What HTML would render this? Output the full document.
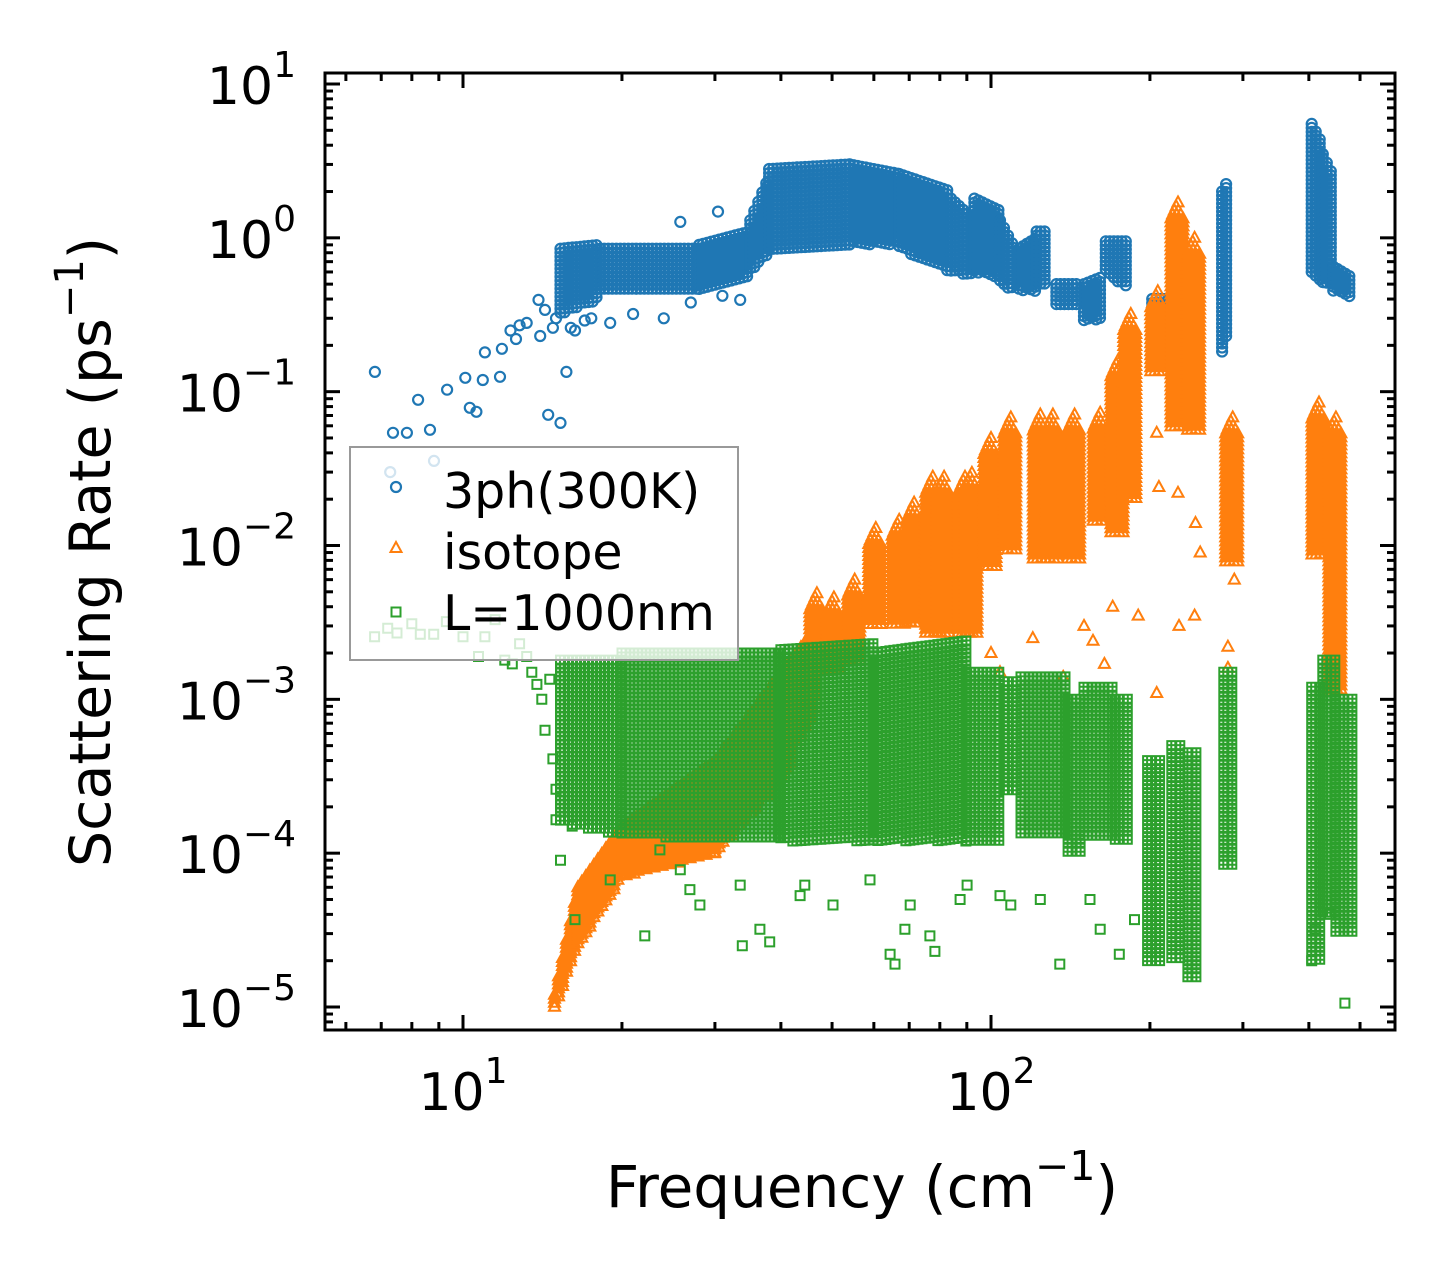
<!DOCTYPE html>
<html><head><meta charset="utf-8"><style>
html,body{margin:0;padding:0;background:#fff;}
svg{display:block;font-family:"DejaVu Sans","Liberation Sans",sans-serif;}
</style></head><body>
<svg id="chart" width="1455" height="1281" viewBox="0 0 1455 1281" xmlns="http://www.w3.org/2000/svg">
<rect width="1455" height="1281" fill="#fff"/>
<g id="marks"></g>
<g id="axes"></g>
<g id="legend">
  <rect x="350" y="447" width="388" height="213" fill="#fff" fill-opacity="0.8" stroke="#999" stroke-width="2"/>
  <circle cx="396" cy="487" r="5" fill="none" stroke="#1f77b4" stroke-width="2.2"/>
  <text x="443" y="508" font-size="49">3ph(300K)</text>
  <path d="M396,542 L401.5,552 L390.5,552 Z" fill="none" stroke="#ff7f0e" stroke-width="2"/>
  <text x="443" y="569" font-size="49">isotope</text>
  <rect x="391.5" y="607.5" width="9" height="9" fill="none" stroke="#2ca02c" stroke-width="2"/>
  <text x="443" y="630" font-size="49">L=1000nm</text>
</g>
<text x="862" y="1207" font-size="58" text-anchor="middle">Frequency (cm<tspan dy="-27" font-size="41">−1</tspan><tspan dy="27">)</tspan></text>
<text transform="translate(110,552) rotate(-90)" font-size="57" text-anchor="middle">Scattering Rate (ps<tspan dy="-27" font-size="40">−1</tspan><tspan dy="27">)</tspan></text>
</svg>
<script>
// ---- axis geometry ----
const X_LOG_MIN = 0.7386, X_LOG_MAX = 2.7652;
const Y_LOG_MIN = -5.1495, Y_LOG_MAX = 1.0715;
const PL = 325, PR = 1395, PT = 73, PB = 1030;
function X(f){ return PL + (Math.log10(f) - X_LOG_MIN) / (X_LOG_MAX - X_LOG_MIN) * (PR - PL); }
function Y(v){ return PB - (Math.log10(v) - Y_LOG_MIN) / (Y_LOG_MAX - Y_LOG_MIN) * (PB - PT); }

// ---- data: tick labels ----
const xTickExps = [1, 2];
const yTickExps = [1, 0, -1, -2, -3, -4, -5];

// ---- data: 3ph (blue) dense bands ----
const blueF0  = [15.3,18.2,28,35,38,54,67,84,93,104,113,122,133,150,165,202,274,405,425,445];
const blueF1  = [18.2,28,35,38,54,67,84,93,104,110,122,128,147,161,183,248,282,425,445,483];
const blueLo0 = [0.32,0.45,0.45,0.6,0.8,0.9,0.85,0.6,0.6,0.5,0.45,0.5,0.35,0.28,0.6,0.27,0.18,0.6,0.5,0.45];
const blueHi0 = [0.85,0.85,0.9,1.3,2.8,3.0,2.6,1.8,1.8,1.3,0.85,1.1,0.5,0.5,0.95,0.4,2.0,5.5,3.5,0.65];
const blueLo1 = [0.4,0.45,0.55,0.8,0.9,0.9,0.6,0.55,0.55,0.45,0.45,0.5,0.35,0.3,0.45,0.3,0.25,0.5,0.5,0.4];
const blueHi1 = [0.9,0.85,1.1,2.5,3.0,2.6,2.0,1.3,1.5,0.9,1.0,1.1,0.5,0.55,0.95,0.4,2.4,4.0,2.5,0.55];
// ---- data: 3ph sparse points ----
const blueOutF = [6.81,7.37,7.83,8.22,8.66,9.33,10.1,10.3,10.6,10.9,11.75,11.0,11.85,12.3,12.6,12.8,13.2,13.9,14.3,14.5,15.3,15.7,33.5,25.8,30.4,16.3,17.0,7.28,8.81,14.0,14.8,15.0,16.0,17.5,19.0,21.0,24.0,27.0,31.0];
const blueOutV = [0.1345,0.054,0.054,0.0885,0.0565,0.103,0.123,0.0785,0.074,0.119,0.125,0.18,0.19,0.25,0.22,0.27,0.28,0.395,0.34,0.0707,0.0627,0.1345,0.395,1.27,1.48,0.25,0.29,0.030,0.0355,0.23,0.26,0.3,0.26,0.3,0.28,0.32,0.3,0.38,0.42];

// ---- data: isotope (orange) low ramp bands ----
const oraF0  = [14.9,16.5,20,30,40];
const oraF1  = [16.5,20,30,40,47];
const oraLo0 = [1e-5,2.5e-5,7e-5,1e-4,3e-4];
const oraHi0 = [1.2e-5,6e-5,1.5e-4,4e-4,1.5e-3];
const oraLo1 = [2.5e-5,7e-5,1e-4,3e-4,1e-3];
const oraHi1 = [6e-5,1.5e-4,4e-4,1.5e-3,3e-3];
// ---- data: isotope spikes ----
const spikeF    = [46.8,50.4,55.2,60.5,67,71.5,77.6,81.5,89.3,92,100,109,124,131,144,161,174,184,207,226,243,287,418,450];
const spikePeak = [4.9e-3,4.6e-3,6.0e-3,1.3e-2,1.47e-2,1.9e-2,2.8e-2,2.8e-2,2.8e-2,2.97e-2,5.0e-2,6.8e-2,7.1e-2,7.1e-2,7.1e-2,7.3e-2,0.16,0.32,0.45,1.7,1.0,6.8e-2,8.5e-2,6.8e-2];
const spikeBase = [1.5e-3,1.5e-3,1.8e-3,3e-3,3e-3,3e-3,2.6e-3,2.6e-3,2.6e-3,2.6e-3,7e-3,9.3e-3,8e-3,8e-3,8e-3,1.4e-2,1.2e-2,2e-2,0.13,0.057,0.054,7.7e-3,8.5e-3,1.1e-3];
// ---- data: isotope sparse points ----
const oraOutF = [208,206,226,244,249,227,243,281,281,206,137,156,164,289,100,104,120,150,170,190];
const oraOutV = [2.4e-2,5.4e-2,2.2e-2,1.4e-2,9e-3,3e-3,3.5e-3,2.2e-3,1.6e-3,1.1e-3,1.4e-3,2.4e-3,1.7e-3,6e-3,2e-3,1.5e-3,2.5e-3,3e-3,4e-3,3.5e-3];

// ---- data: boundary L=1000nm (green) dense bands ----
const grnF0  = [15.3,20,40,60,90,106,114,140,150,172,198,220,236,276,405,425,450];
const grnF1  = [20,40,60,90,104,112,140,150,170,183,212,230,248,286,425,450,485];
const grnLo0 = [1.6e-4,1.3e-4,1.2e-4,1.2e-4,1.2e-4,2.5e-4,1.3e-4,1e-4,1.3e-4,1.2e-4,2e-5,2e-5,1.5e-5,8e-5,2e-5,4e-5,3e-5];
const grnHi0 = [1.8e-3,2e-3,2.1e-3,2e-3,1.5e-3,1.3e-3,1.4e-3,1e-3,1.2e-3,1e-3,4e-4,5e-4,4.5e-4,1.5e-3,1.2e-3,1.8e-3,1e-3];
const grnLo1 = [1.3e-4,1.2e-4,1.2e-4,1.2e-4,1.2e-4,2.5e-4,1.3e-4,1e-4,1.3e-4,1.2e-4,2e-5,2e-5,1.5e-5,8e-5,2e-5,4e-5,3e-5];
const grnHi1 = [1.8e-3,2e-3,2.3e-3,2.4e-3,1.5e-3,1.3e-3,1.4e-3,1e-3,1.2e-3,1e-3,4e-4,5e-4,4.5e-4,1.5e-3,1.2e-3,1.8e-3,1e-3];
// ---- data: boundary sparse points ----
const grnOutF = [6.8,7.2,7.5,8.0,8.3,8.8,9.3,10.0,10.7,11.0,11.5,12.0,12.4,12.8,13.2,13.5,13.8,14.1,14.3,14.6,14.8,15.0,15.0,
  15.3,16.1,16.3,19.0,22.1,23.6,25.8,26.9,28.1,33.5,33.8,36.5,38.1,43.5,44.4,50.2,59,64.4,65.8,68.7,70.3,76.6,78.3,87.4,90.1,104,109,124,135,154,161,175,187,405,411,468,438];
const grnOutV = [2.55e-3,2.9e-3,2.7e-3,3.1e-3,2.65e-3,2.65e-3,3.2e-3,2.55e-3,1.9e-3,2.55e-3,3.3e-3,1.8e-3,1.7e-3,2.3e-3,1.9e-3,1.5e-3,1.25e-3,1e-3,6.3e-4,1.35e-3,4.1e-4,1.65e-4,2.6e-4,
  9e-5,1.5e-4,3.7e-5,6.7e-5,2.9e-5,1.05e-4,7.8e-5,5.8e-5,4.6e-5,6.2e-5,2.5e-5,3.2e-5,2.65e-5,5.3e-5,6.2e-5,4.6e-5,6.7e-5,2.2e-5,1.9e-5,3.2e-5,4.6e-5,2.9e-5,2.3e-5,5e-5,6.2e-5,5.3e-5,4.6e-5,5e-5,1.9e-5,5e-5,3.2e-5,2.2e-5,3.7e-5,2e-5,3.2e-5,1.06e-5,4e-5];

// ---- marker shapes ----
function circ(x,y){ const r=5; return `M${(x-r).toFixed(1)},${y.toFixed(1)}a${r},${r} 0 1,0 ${2*r},0a${r},${r} 0 1,0 ${-2*r},0`; }
function tri(x,y){ return `M${x.toFixed(1)},${(y-6).toFixed(1)}l5.5,10h-11z`; }
function sq(x,y){ return `M${(x-4.5).toFixed(1)},${(y-4.5).toFixed(1)}h9v9h-9z`; }

const SVGNS = "http://www.w3.org/2000/svg";
const marks = document.getElementById('marks');
function addPath(d, color, name){
  const p = document.createElementNS(SVGNS,'path');
  p.setAttribute('d', d);
  p.setAttribute('fill','none');
  p.setAttribute('stroke', color);
  p.setAttribute('stroke-width', color==='#1f77b4' ? '2.2' : '2');
  
  
  marks.appendChild(p);
}
function bandPath(f0,f1,lo0,hi0,lo1,hi1,shape){
  let d='';
  const x0=X(f0), x1=X(f1);
  const step=4;
  for(let x=x0; x<=x1+0.01; x+=step){
    const t = x1>x0 ? (x-x0)/(x1-x0) : 0;
    const lo = Math.pow(10, Math.log10(lo0)*(1-t)+Math.log10(lo1)*t);
    const hi = Math.pow(10, Math.log10(hi0)*(1-t)+Math.log10(hi1)*t);
    for(let y=Y(hi); y<=Y(lo)+0.01; y+=step){ d += shape(x,y); }
  }
  return d;
}

for(let i=0;i<blueF0.length;i++){
  addPath(bandPath(blueF0[i],blueF1[i],blueLo0[i],blueHi0[i],blueLo1[i],blueHi1[i],circ), '#1f77b4', 'band-3ph-'+i);
}
{ let d=''; for(let i=0;i<blueOutF.length;i++) d+=circ(X(blueOutF[i]),Y(blueOutV[i])); addPath(d,'#1f77b4','points-3ph'); }

for(let i=0;i<oraF0.length;i++){
  addPath(bandPath(oraF0[i],oraF1[i],oraLo0[i],oraHi0[i],oraLo1[i],oraHi1[i],tri), '#ff7f0e', 'band-isotope-'+i);
}
for(let i=0;i<spikeF.length;i++){
  let d='';
  const cx=X(spikeF[i]), yp=Y(spikePeak[i]), yb=Y(spikeBase[i]);
  for(let y=yp; y<=yb+0.01; y+=4){
    const hw=Math.min(7,(y-yp)*0.45);
    for(let x=cx-hw; x<=cx+hw+0.01; x+=4) d+=tri(x,y);
  }
  addPath(d,'#ff7f0e','spike-isotope-'+i);
}
{ let d=''; for(let i=0;i<oraOutF.length;i++) d+=tri(X(oraOutF[i]),Y(oraOutV[i])); addPath(d,'#ff7f0e','points-isotope'); }

for(let i=0;i<grnF0.length;i++){
  addPath(bandPath(grnF0[i],grnF1[i],grnLo0[i],grnHi0[i],grnLo1[i],grnHi1[i],sq), '#2ca02c', 'band-boundary-'+i);
}
{ let d=''; for(let i=0;i<grnOutF.length;i++) d+=sq(X(grnOutF[i]),Y(grnOutV[i])); addPath(d,'#2ca02c','points-boundary'); }

// ---- axes ----
const axes = document.getElementById('axes');
function line(x1,y1,x2,y2,name){
  const l=document.createElementNS(SVGNS,'line');
  l.setAttribute('x1',x1);l.setAttribute('y1',y1);l.setAttribute('x2',x2);l.setAttribute('y2',y2);
  l.setAttribute('stroke','#000');l.setAttribute('stroke-width','3');
  
  
  axes.appendChild(l);
}
const frame=document.createElementNS(SVGNS,'rect');
frame.setAttribute('x',PL);frame.setAttribute('y',PT);frame.setAttribute('width',PR-PL);frame.setAttribute('height',PB-PT);
frame.setAttribute('fill','none');frame.setAttribute('stroke','#000');frame.setAttribute('stroke-width','3');


axes.appendChild(frame);

for(let e=0;e<=2;e++){
  for(let m=1;m<=9;m++){
    const f=m*Math.pow(10,e);
    const lf=Math.log10(f); if(lf<X_LOG_MIN||lf>X_LOG_MAX) continue;
    const x=X(f), len = m===1?15:8;
    line(x,PB,x,PB-len,'x-tick');
    line(x,PT,x,PT+len,'x-tick-top');
  }
}
for(let e=-6;e<=1;e++){
  for(let m=1;m<=9;m++){
    const v=m*Math.pow(10,e);
    const lv=Math.log10(v); if(lv<Y_LOG_MIN||lv>Y_LOG_MAX) continue;
    const y=Y(v), len = m===1?15:8;
    line(PL,y,PL+len,y,'y-tick');
    line(PR,y,PR-len,y,'y-tick-right');
  }
}
function fmtExp(e){ return e<0 ? '\u2212'+(-e) : String(e); }
for(const e of xTickExps){
  const t=document.createElementNS(SVGNS,'text');
  t.setAttribute('x',X(Math.pow(10,e)));t.setAttribute('y',1110);
  t.setAttribute('font-size','52');t.setAttribute('text-anchor','middle');
  t.innerHTML='10<tspan dy="-27" font-size="36">'+fmtExp(e)+'</tspan>';
  
  
  axes.appendChild(t);
}
for(const e of yTickExps){
  const t=document.createElementNS(SVGNS,'text');
  t.setAttribute('x',296);t.setAttribute('y',Y(Math.pow(10,e))+20);
  t.setAttribute('font-size','52');t.setAttribute('text-anchor','end');
  t.innerHTML='10<tspan dy="-27" font-size="36">'+fmtExp(e)+'</tspan>';
  
  
  axes.appendChild(t);
}
document.getElementById('chart').appendChild(document.getElementById('legend'));
</script>
</body></html>
